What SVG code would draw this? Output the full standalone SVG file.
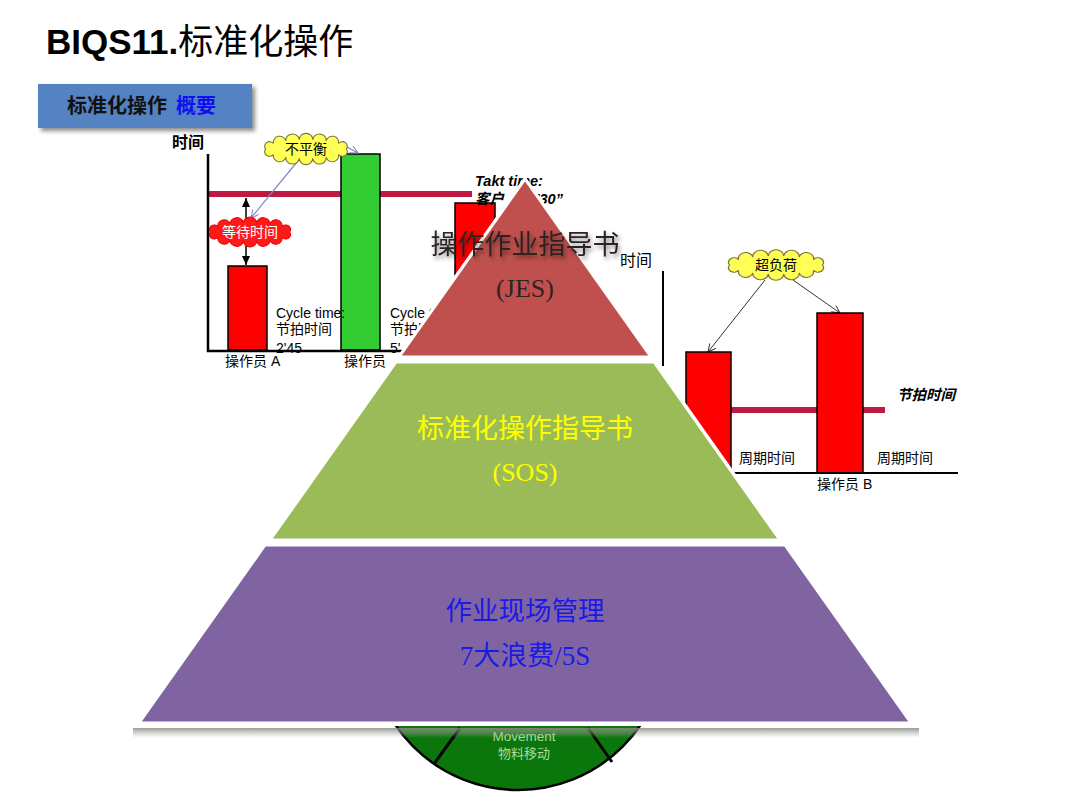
<svg xmlns="http://www.w3.org/2000/svg" width="1080" height="810" viewBox="0 0 1080 810">
<style>
.sans{font-family:"Liberation Sans","Noto Sans CJK SC",sans-serif}
.serif{font-family:"Liberation Serif","Noto Sans CJK SC",serif}
.lbl{font-family:"Liberation Sans","Noto Sans CJK SC",sans-serif;font-size:14px;fill:#000}
.axis{stroke:#000;stroke-width:2.5;fill:none}
.takt{stroke:#bf1a41;stroke-width:6;fill:none}
.bar-red{fill:#ff0000;stroke:#000;stroke-width:1.5}
.bar-green{fill:#33cc33;stroke:#000;stroke-width:1.5}
.cloud-y{fill:#ffff55;stroke:#777733;stroke-width:1}
.cloud-r{fill:#ff1a1a;stroke:#ee0000;stroke-width:1}
.layer{stroke:#fff;stroke-width:3}
.ptext{font-family:"Liberation Serif","Noto Sans CJK SC",serif;text-anchor:middle}
</style>
<defs>
<path id="cloud" d="M36,0 A1,1 0 0,1 29,5.3 A1,1 0 0,1 18,7.8 A1,1 0 0,1 6,8.9 A1,1 0 0,1 -6,8.9 A1,1 0 0,1 -18,7.8 A1,1 0 0,1 -29,5.3 A1,1 0 0,1 -36,0 A1,1 0 0,1 -29,-5.3 A1,1 0 0,1 -18,-7.8 A1,1 0 0,1 -6,-8.9 A1,1 0 0,1 6,-8.9 A1,1 0 0,1 18,-7.8 A1,1 0 0,1 29,-5.3 A1,1 0 0,1 36,0 Z"/>
<marker id="arrOpenGrey" markerWidth="10" markerHeight="10" refX="8" refY="4" orient="auto" markerUnits="userSpaceOnUse">
<path d="M0,0 L8,4 L0,8" fill="none" stroke="#333" stroke-width="1"/>
</marker>
<marker id="arrOpenBlue" markerWidth="10" markerHeight="10" refX="8" refY="4" orient="auto" markerUnits="userSpaceOnUse">
<path d="M0,0 L8,4 L0,8" fill="none" stroke="#7f86c6" stroke-width="1"/>
</marker>
<marker id="arrSolid" markerWidth="10" markerHeight="10" refX="9" refY="4" orient="auto" markerUnits="userSpaceOnUse">
<path d="M0,0 L9,4 L0,8 Z" fill="#000"/>
</marker>
<filter id="boxShadow" x="-10%" y="-20%" width="130%" height="160%">
<feDropShadow dx="3" dy="3" stdDeviation="2" flood-color="#000" flood-opacity="0.45"/>
</filter>
<filter id="txtShadow" x="-10%" y="-30%" width="130%" height="170%">
<feDropShadow dx="2" dy="3" stdDeviation="2" flood-color="#000" flood-opacity="0.45"/>
</filter>
<linearGradient id="baseShadow" x1="0" y1="0" x2="0" y2="1">
<stop offset="0" stop-color="#8a8a80" stop-opacity="0.85"/>
<stop offset="1" stop-color="#b0b0a8" stop-opacity="0"/>
</linearGradient>
</defs>
<rect width="1080" height="810" fill="#fff"/>

<g id="title">
<text x="46" y="54" font-size="35" class="sans"><tspan font-weight="bold">BIQS11.</tspan><tspan>标准化操作</tspan></text>
</g>

<g id="header-box">
<rect x="38" y="84" width="214" height="44" fill="#5582c2" filter="url(#boxShadow)"/>
<text x="67" y="113" font-size="20" font-weight="bold" class="serif" fill="#111">标准化操作 <tspan fill="#1010ee" dx="4">概要</tspan></text>
</g>

<g id="chart-left">
<text x="172" y="148" font-size="16" font-weight="bold" class="serif">时间</text>
<line class="takt" x1="208" y1="194" x2="472" y2="194"/>
<rect class="bar-red" x="228" y="266" width="39" height="84"/>
<rect class="bar-green" x="341" y="154" width="39" height="196"/>
<rect class="bar-red" x="455" y="203" width="40" height="147"/>
<path class="axis" d="M208,154 V351 H470"/>
<text class="sans" x="475" y="186" font-size="14.5" font-weight="bold" font-style="italic">Takt time:</text>
<text class="sans" x="475" y="204" font-size="14.5" font-weight="bold" font-style="italic">客户<tspan x="528">4'30”</tspan></text>
<text class="lbl" x="276" y="318">Cycle time:</text>
<text class="lbl" x="276" y="334">节拍时间</text>
<text class="lbl" x="276" y="353">2'45</text>
<text class="lbl" x="390" y="318">Cycle time:</text>
<text class="lbl" x="390" y="334">节拍时间</text>
<text class="lbl" x="390" y="353">5'</text>
<text class="lbl" x="225" y="366">操作员 A</text>
<text class="lbl" x="344" y="366">操作员</text>
</g>

<g id="connectors">
<line x1="246" y1="232" x2="246" y2="198" stroke="#000" stroke-width="1.5" marker-end="url(#arrSolid)"/>
<line x1="246" y1="232" x2="246" y2="265" stroke="#000" stroke-width="1.5" marker-end="url(#arrSolid)"/>
<line x1="297" y1="162" x2="251" y2="218" stroke="#7f86c6" stroke-width="1.2" marker-end="url(#arrOpenBlue)"/>
<line x1="347" y1="147" x2="358" y2="153" stroke="#7f86c6" stroke-width="1.2" marker-end="url(#arrOpenBlue)"/>
<line x1="765" y1="280" x2="708" y2="352" stroke="#333" stroke-width="1" marker-end="url(#arrOpenGrey)"/>
<line x1="793" y1="280" x2="840" y2="313" stroke="#333" stroke-width="1" marker-end="url(#arrOpenGrey)"/>
</g>

<g id="cloud-imbalance">
<use href="#cloud" class="cloud-y" transform="translate(306,149) scale(1.12,1.05)"/>
<text class="sans" x="306" y="154" font-size="14" text-anchor="middle">不平衡</text>
</g>

<g id="cloud-wait">
<use href="#cloud" class="cloud-r" transform="translate(250,232) scale(1.1,1)"/>
<text class="sans" x="250" y="237" font-size="14" fill="#fff" text-anchor="middle">等待时间</text>
</g>

<g id="chart-right">
<text x="620" y="266" font-size="16" class="serif">时间</text>
<line x1="663" y1="271" x2="663" y2="366" stroke="#000" stroke-width="2"/>
<line class="takt" x1="700" y1="410" x2="885" y2="410"/>
<rect class="bar-red" x="686" y="352" width="45" height="121"/>
<rect class="bar-red" x="817" y="313" width="46" height="160"/>
<line x1="680" y1="473" x2="958" y2="473" stroke="#000" stroke-width="2"/>
<text class="sans" x="897" y="400" font-size="14.5" font-weight="bold" font-style="italic">节拍时间</text>
<text class="lbl" x="739" y="463">周期时间</text>
<text class="lbl" x="877" y="463">周期时间</text>
<text class="lbl" x="817" y="489">操作员 B</text>
</g>

<g id="cloud-overload">
<use href="#cloud" class="cloud-y" transform="translate(776,265) scale(1.29,1.02)"/>
<text class="sans" x="776" y="270" font-size="14" text-anchor="middle">超负荷</text>
</g>

<g id="wheel">
<circle cx="518" cy="642" r="148" fill="#0b760b" stroke="#000" stroke-width="2.5"/>
<line x1="460" y1="728" x2="434" y2="764" stroke="#000" stroke-width="3"/>
<line x1="588" y1="728" x2="612" y2="762" stroke="#000" stroke-width="3"/>
<text class="sans" x="524" y="741" font-size="13.5" fill="#a8dca0" text-anchor="middle">Movement</text>
<text class="sans" x="524" y="758" font-size="13" fill="#a8dca0" text-anchor="middle">物料移动</text>
</g>

<g id="pyramid-shadow">
<rect x="133" y="728" width="786" height="10" fill="url(#baseShadow)"/>
<polygon points="525,176 914,726 136,726" fill="#fff"/>
</g>

<g id="layer-jes">
<polygon class="layer" points="525,179 651,357 399,357" fill="#c0504d"/>
<text class="ptext" x="525" y="254" font-size="27" fill="#2e2222" filter="url(#txtShadow)">操作作业指导书</text>
<text class="ptext" x="525" y="297" font-size="26" fill="#2e2222">(JES)</text>
</g>

<g id="layer-sos">
<polygon class="layer" points="396,362 654,362 780,540 270,540" fill="#9bbb59"/>
<text class="ptext" x="525" y="438" font-size="27" fill="#ffff00">标准化操作指导书</text>
<text class="ptext" x="525" y="481" font-size="26" fill="#ffff00">(SOS)</text>
</g>

<g id="layer-site">
<polygon class="layer" points="265,545 785,545 911,723 139,723" fill="#8064a2"/>
<text class="ptext" x="525" y="620" font-size="26.5" fill="#1a1ae6">作业现场管理</text>
<text class="ptext" x="525" y="665" font-size="27" fill="#1a1ae6">7大浪费/5S</text>
</g>
</svg>
